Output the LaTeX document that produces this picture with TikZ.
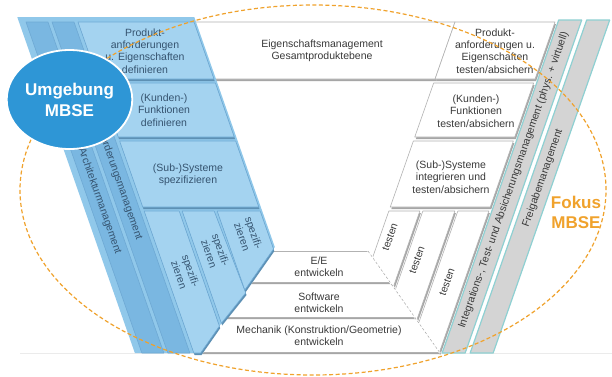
\documentclass[tikz,border=0pt]{standalone}
\usepackage{fontspec}
\setmainfont{Liberation Sans}
\usetikzlibrary{shadows,shapes.geometric}
\definecolor{wingblue}{HTML}{90C8EA}
\definecolor{stripblue}{HTML}{7AB7E1}
\definecolor{boxblue}{HTML}{A4D3F0}
\definecolor{lineblue}{HTML}{6EA9D4}
\definecolor{textblue}{HTML}{35536F}
\definecolor{circleblue}{HTML}{2E96D6}
\definecolor{fokusorange}{HTML}{F0A22C}
\definecolor{stripgray}{HTML}{D4D4D4}
\definecolor{stripteal}{HTML}{8ED0D2}
\definecolor{textgray}{HTML}{3A3A3A}
\def\lp#1#2{({#1+0.35*(#2-22)},#2)}
\def\rp#1#2{({#1-0.35*(#2-22)},#2)}
\tikzset{
	bluebox/.style={fill=boxblue, draw=lineblue, line width=0.6pt, drop shadow={shadow xshift=0.8pt, shadow yshift=-2.2pt, fill=lineblue!85!black, opacity=1}},
	bluestrip/.style={fill=stripblue, draw=lineblue, line width=0.6pt},
	whitebox/.style={fill=white, draw=black!30, line width=0.6pt, drop shadow={shadow xshift=1pt, shadow yshift=-2.2pt, fill=black!35, opacity=1}},
	graystrip/.style={fill=stripgray, draw=stripteal, line width=1.2pt},
	bluetext/.style={text=textblue, align=center, font=\fontsize{10.5}{12.3}\selectfont},
	graytext/.style={text=textgray, align=center, font=\fontsize{10.5}{12.3}\selectfont},
}

\begin{document}
\begin{tikzpicture}[x=1pt, y=-1pt, line join=round]
				\useasboundingbox[fill=white] (0,0) rectangle (612,376);
				\draw[black!8] (20,353) -- (612,353);
				
				\draw[whitebox] \lp{194}{22} -- \rp{455}{22} -- \rp{455}{79} -- \lp{194}{79} -- cycle;
				\node[graytext] (eigen) at (322,51) {Eigenschaftsmanagement\\Gesamtproduktebene};
				
				\draw[whitebox] \rp{455}{22} -- \rp{555}{22} -- \rp{555}{79} -- \rp{455}{79} -- cycle;
				\node[graytext] (produkttest) at (495,51) {Produkt-\\anforderungen u.\\Eigenschaften\\testen/absichern};
				\draw[whitebox] \rp{455}{83} -- \rp{555}{83} -- \rp{555}{137} -- \rp{455}{137} -- cycle;
				\node[graytext] (funktest) at (476,111) {(Kunden-)\\Funktionen\\testen/absichern};
				\draw[whitebox] \rp{455}{141} -- \rp{555}{141} -- \rp{555}{207} -- \rp{455}{207} -- cycle;
				\node[graytext] (systest) at (451,177) {(Sub-)Systeme\\integrieren und\\testen/absichern};
				
				\draw[whitebox] \rp{455}{211} -- \rp{486}{211} -- (393.3,287) -- (372.6,257.5) -- cycle;
				\draw[whitebox] \rp{489}{211} -- \rp{521}{211} -- (416.6,320.4) -- (395.2,289.9) -- cycle;
				\draw[whitebox] \rp{524}{211} -- \rp{555}{211} -- (439.2,352.8) -- (418.6,323.2) -- cycle;
				\node[graytext, rotate=70.7] (testen1) at (390,237) {testen};
				\node[graytext, rotate=70.7] (testen2) at (417,260) {testen};
				\node[graytext, rotate=70.7] (testen3) at (447,282) {testen};
				
				\draw[whitebox, draw=none] (272,251) -- (368,251) -- (389.7,282) -- (250.3,282) -- cycle;
				\draw[black!30] (272,251) -- (368,251);
				\node[graytext] (ee) at (319,267) {E/E\\entwickeln};
				\draw[whitebox, draw=none] (248.2,286) -- (391.8,286) -- (414.2,317) -- (225.8,317) -- cycle;
				\node[graytext] (software) at (319,303) {Software\\entwickeln};
				\draw[whitebox, draw=none] (223.7,320) -- (416.3,320) -- (438.7,352) -- (201.3,352) -- cycle;
				\node[graytext] (mechanik) at (319,336) {Mechanik (Konstruktion/Geometrie)\\entwickeln};
				\draw[white, line width=1.6pt] (368,251) -- (440,353);
				\draw[black!40, dashed, dash pattern=on 2.5pt off 2pt] (368,251) -- (440,353);
				
				\draw[graystrip] \rp{558}{20} -- \rp{581}{20} -- \rp{581}{353} -- \rp{558}{353} -- cycle;
				\draw[graystrip] \rp{586}{20} -- \rp{609}{20} -- \rp{609}{353} -- \rp{586}{353} -- cycle;
				\node[graytext, rotate=70.7] (integration) at \rp{569}{180} {Integrations-, Test- und Absicherungsmanagement (phys. + virtuell)};
				\node[graytext, rotate=70.7] (freigabe) at \rp{597.5}{178} {Freigabemanagement};
				
				\fill[wingblue] \lp{19}{17} -- \lp{196}{17} -- (274.8,247) -- (200.6,353) -- \lp{19}{353} -- cycle;
				\draw[bluestrip] \lp{26}{22} -- \lp{48}{22} -- \lp{48}{353} -- \lp{26}{353} -- cycle;
				\draw[bluestrip] \lp{52}{22} -- \lp{74}{22} -- \lp{74}{353} -- \lp{52}{353} -- cycle;
				\node[bluetext, rotate=-70.7] (architektur) at \lp{37}{201} {Architekturmanagement};
				\node[bluetext, rotate=-70.7] (anforderung) at \lp{63}{181} {Anforderungsmanagement};
				
				\draw[bluebox] \lp{78}{22} -- \lp{194}{22} -- \lp{194}{79} -- \lp{78}{79} -- cycle;
				\node[bluetext] (produktdef) at (145,51) {Produkt-\\anforderungen\\u. Eigenschaften\\definieren};
				\draw[bluebox] \lp{78}{83} -- \lp{194}{83} -- \lp{194}{137} -- \lp{78}{137} -- cycle;
				\node[bluetext] (funkdef) at (164,110) {(Kunden-)\\Funktionen\\definieren};
				\draw[bluebox] \lp{78}{141} -- \lp{194}{141} -- \lp{194}{207} -- \lp{78}{207} -- cycle;
				\node[bluetext] (sysdef) at (188,175) {(Sub-)Systeme\\spezifizieren};
				
				\draw[bluebox] \lp{78}{211} -- \lp{113}{211} -- (219.4,326.1) -- (200.6,353) -- \lp{78}{353} -- cycle;
				\draw[bluebox] \lp{116}{211} -- \lp{148}{211} -- (245.7,292.8) -- (221.4,323.2) -- cycle;
				\draw[bluebox] \lp{151}{211} -- \lp{194}{211} -- (273.5,249) -- (244.8,290) -- cycle;
				\node[bluetext, rotate=-70.7] (spez1) at (185,273) {spezifi-\\zieren};
				\node[bluetext, rotate=-70.7] (spez2) at (215,252) {spezifi-\\zieren};
				\node[bluetext, rotate=-70.7] (spez3) at (248,235) {spezifi-\\zieren};
				
				\draw[fokusorange, dash pattern=on 4pt off 2.5pt, line width=1.2pt] (313,190) ellipse [x radius=293pt, y radius=185pt];
				
				\node[ellipse, fill=circleblue, draw=white, line width=1.8pt, minimum width=113pt, minimum height=99pt, inner sep=0pt, text=white, align=center, font=\fontsize{17}{21}\selectfont\bfseries] (umgebung) at (69.5,99.5) {Umgebung\\MBSE};
				\node[text=fokusorange, align=center, font=\fontsize{17}{20}\selectfont\bfseries] (fokus) at (576,212) {Fokus\\MBSE};
\end{tikzpicture}
\end{document}
